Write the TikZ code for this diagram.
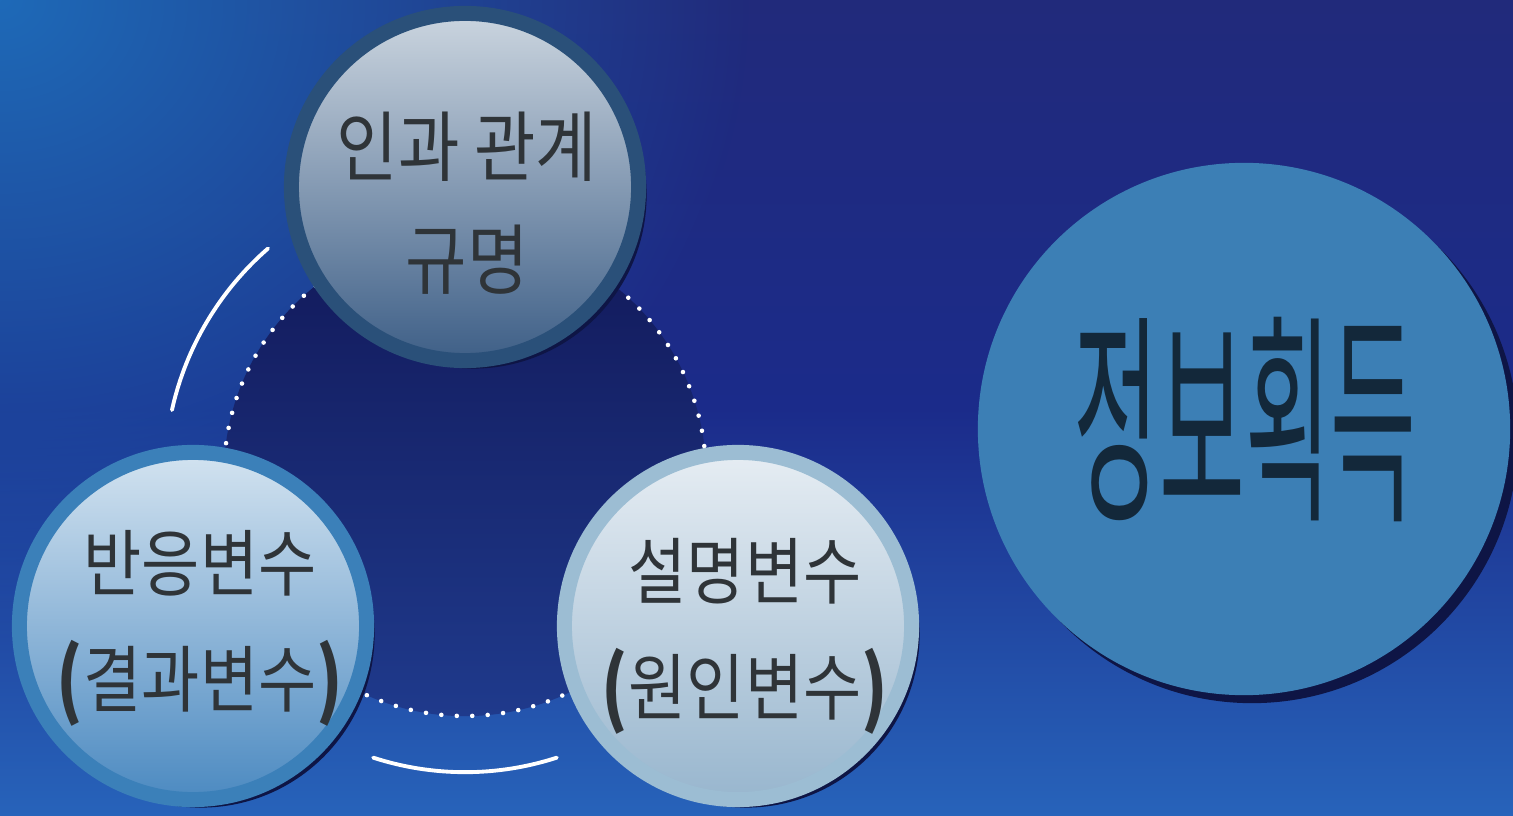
\documentclass[tikz,border=0pt]{standalone}
\usepackage{fontspec}
\newfontfamily\kr{Noto Sans CJK KR}
\usetikzlibrary{shadows,fadings}
\tikzfading[name=glowfade, inner color=transparent!0, outer color=transparent!100]
\definecolor{bgtop}{HTML}{212A7B}
\definecolor{bgmid}{HTML}{1B2B8A}
\definecolor{bgbot}{HTML}{2763BA}
\definecolor{glow}{HTML}{1E6AB8}
\definecolor{hubtop}{HTML}{12195A}
\definecolor{hubbot}{HTML}{1F3A8C}
\definecolor{shadowc}{HTML}{0E1545}
\definecolor{txt}{HTML}{2F3438}
\definecolor{aring}{HTML}{2A5079}
\definecolor{atop}{HTML}{CBD5DF}
\definecolor{abot}{HTML}{3E5F87}
\definecolor{bring}{HTML}{3B80B9}
\definecolor{btop}{HTML}{D3E3F0}
\definecolor{bbot}{HTML}{4C8AC1}
\definecolor{cring}{HTML}{9CBDD3}
\definecolor{ctop}{HTML}{E6EDF3}
\definecolor{cbot}{HTML}{98B6CE}
\definecolor{bigfill}{HTML}{3C7FB5}
\definecolor{bigtxt}{HTML}{13283A}
\tikzset{
  ball/.style={circle, inner sep=0pt, minimum size=3.47cm, line width=0.15cm,
    drop shadow={shadow xshift=0.08cm, shadow yshift=-0.08cm, fill=shadowc, opacity=1}},
  label text/.style={text=txt, align=center, font=\kr\fontsize{18}{33}\selectfont},
  ring/.style={white, line width=1.1pt, line cap=round},
  dotline/.style={white, line width=1.3pt, line cap=round, dash pattern=on 0pt off 4.4pt},
}
\newcommand{\bp}[1]{\raisebox{-0.05em}{\scalebox{1.05}[1.3]{\bfseries #1}}}
\newcommand{\tl}[1]{\scalebox{1}[1.15]{#1}}
\begin{document}
\begin{tikzpicture}[x=0.01cm,y=-0.01cm]
\useasboundingbox (0,0) rectangle (1513,816);
% background
\fill[top color=bgtop, bottom color=bgbot, middle color=bgmid] (0,0) rectangle (1513,816);
\fill[glow, path fading=glowfade] (0,0) ellipse [x radius=750, y radius=650];
% hub
\coordinate (c) at (465,475);
\node[circle, inner sep=0pt, minimum size=4.82cm, top color=hubtop, bottom color=hubbot] (hub) at (c) {};
\draw[dotline] (hub.center) circle (241);
% outer arcs
\draw[ring] ([shift={(131:3cm)}]c) arc[start angle=131, end angle=167.5, radius=3cm];
\draw[ring] ([shift={(252:2.97cm)}]c) arc[start angle=252, end angle=288, radius=2.97cm];
% three circles
\node[ball, draw=aring, top color=atop, bottom color=abot] (cause) at (465,187) {};
\node[label text, font=\kr\fontsize{19}{32}\selectfont] (causet) at (467,203) {\tl{인과 관계}\\\tl{규명}};
\node[ball, draw=bring, top color=btop, bottom color=bbot] (resp) at (193,626) {};
\node[label text] (respt) at (200,628) {\tl{반응변수}\\\bp{(}\tl{결과변수}\bp{)}};
\node[ball, draw=cring, top color=ctop, bottom color=cbot] (expl) at (738,626) {};
\node[label text] (explt) at (745,636) {\tl{설명변수}\\\bp{(}\tl{원인변수}\bp{)}};
% big circle
\node[circle, inner sep=0pt, minimum size=5.32cm, fill=bigfill,
  drop shadow={shadow xshift=0.08cm, shadow yshift=-0.08cm, fill=shadowc, opacity=1}] (big) at (1244,429) {};
\node[text=bigtxt, font=\kr\fontsize{26.5}{30}\selectfont] (bigt) at (1245,420) {\scalebox{1}[2.4]{정보획득}};
\end{tikzpicture}
\end{document}
